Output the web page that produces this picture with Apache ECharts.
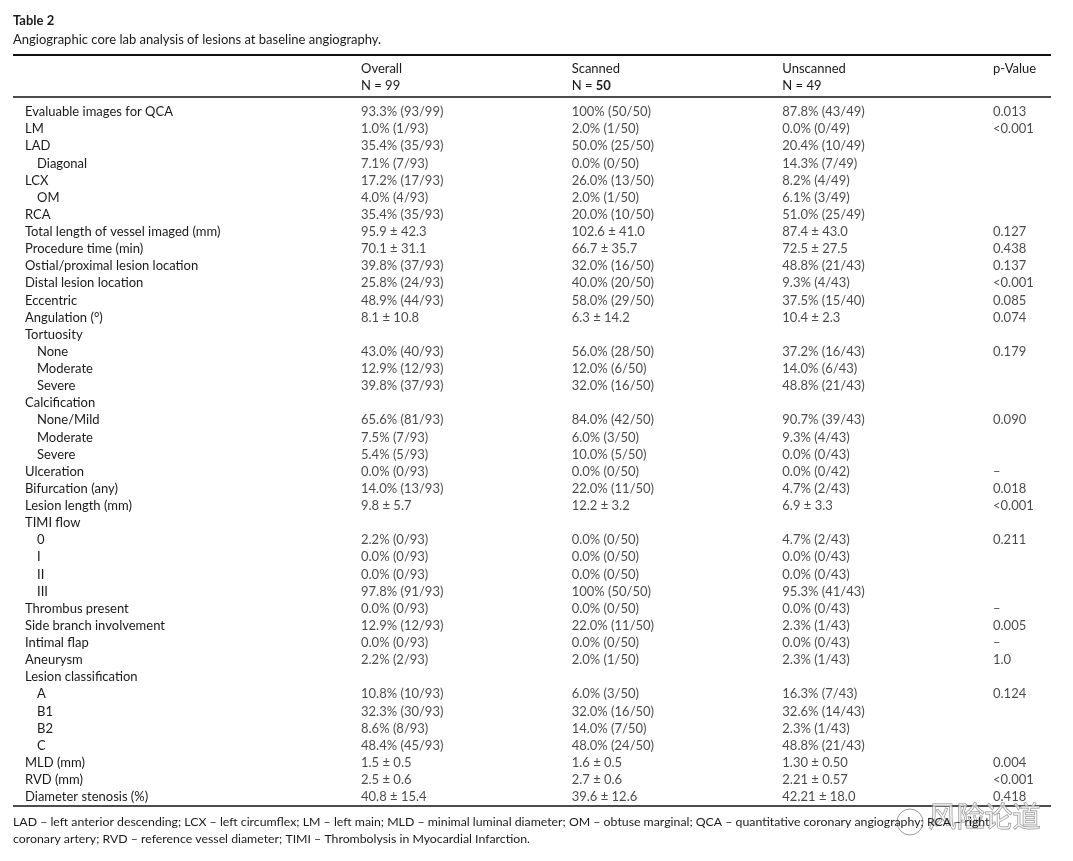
<!DOCTYPE html>
<html><head><meta charset="utf-8">
<script src="https://cdn.jsdelivr.net/npm/echarts@6/dist/echarts.min.js"></script>
<style>html,body{margin:0;padding:0;background:#fff}#c{width:1073px;height:861px}</style>
</head><body><div id="c"></div>
<script>
const titleText = 'Table 2';
const subtitleText = 'Angiographic core lab analysis of lesions at baseline angiography.';
const headerNames = ['Overall', 'Scanned', 'Unscanned', 'p-Value'];
const headerN = ['N = 99', 'N = 50', 'N = 49', ''];
const rowLabels = ['Evaluable images for QCA','LM','LAD','Diagonal','LCX','OM','RCA','Total length of vessel imaged (mm)','Procedure time (min)','Ostial/proximal lesion location','Distal lesion location','Eccentric','Angulation (°)','Tortuosity','None','Moderate','Severe','Calcification','None/Mild','Moderate','Severe','Ulceration','Bifurcation (any)','Lesion length (mm)','TIMI flow','0','I','II','III','Thrombus present','Side branch involvement','Intimal flap','Aneurysm','Lesion classification','A','B1','B2','C','MLD (mm)','RVD (mm)','Diameter stenosis (%)'];
const indented = [3,5,14,15,16,18,19,20,25,26,27,28,34,35,36,37];
const overall = ['93.3% (93/99)','1.0% (1/93)','35.4% (35/93)','7.1% (7/93)','17.2% (17/93)','4.0% (4/93)','35.4% (35/93)','95.9 ± 42.3','70.1 ± 31.1','39.8% (37/93)','25.8% (24/93)','48.9% (44/93)','8.1 ± 10.8','','43.0% (40/93)','12.9% (12/93)','39.8% (37/93)','','65.6% (81/93)','7.5% (7/93)','5.4% (5/93)','0.0% (0/93)','14.0% (13/93)','9.8 ± 5.7','','2.2% (0/93)','0.0% (0/93)','0.0% (0/93)','97.8% (91/93)','0.0% (0/93)','12.9% (12/93)','0.0% (0/93)','2.2% (2/93)','','10.8% (10/93)','32.3% (30/93)','8.6% (8/93)','48.4% (45/93)','1.5 ± 0.5','2.5 ± 0.6','40.8 ± 15.4'];
const scanned = ['100% (50/50)','2.0% (1/50)','50.0% (25/50)','0.0% (0/50)','26.0% (13/50)','2.0% (1/50)','20.0% (10/50)','102.6 ± 41.0','66.7 ± 35.7','32.0% (16/50)','40.0% (20/50)','58.0% (29/50)','6.3 ± 14.2','','56.0% (28/50)','12.0% (6/50)','32.0% (16/50)','','84.0% (42/50)','6.0% (3/50)','10.0% (5/50)','0.0% (0/50)','22.0% (11/50)','12.2 ± 3.2','','0.0% (0/50)','0.0% (0/50)','0.0% (0/50)','100% (50/50)','0.0% (0/50)','22.0% (11/50)','0.0% (0/50)','2.0% (1/50)','','6.0% (3/50)','32.0% (16/50)','14.0% (7/50)','48.0% (24/50)','1.6 ± 0.5','2.7 ± 0.6','39.6 ± 12.6'];
const unscanned = ['87.8% (43/49)','0.0% (0/49)','20.4% (10/49)','14.3% (7/49)','8.2% (4/49)','6.1% (3/49)','51.0% (25/49)','87.4 ± 43.0','72.5 ± 27.5','48.8% (21/43)','9.3% (4/43)','37.5% (15/40)','10.4 ± 2.3','','37.2% (16/43)','14.0% (6/43)','48.8% (21/43)','','90.7% (39/43)','9.3% (4/43)','0.0% (0/43)','0.0% (0/42)','4.7% (2/43)','6.9 ± 3.3','','4.7% (2/43)','0.0% (0/43)','0.0% (0/43)','95.3% (41/43)','0.0% (0/43)','2.3% (1/43)','0.0% (0/43)','2.3% (1/43)','','16.3% (7/43)','32.6% (14/43)','2.3% (1/43)','48.8% (21/43)','1.30 ± 0.50','2.21 ± 0.57','42.21 ± 18.0'];
const pValue = ['0.013','<0.001','','','','','','0.127','0.438','0.137','<0.001','0.085','0.074','','0.179','','','','0.090','','','–','0.018','<0.001','','0.211','','','','–','0.005','–','1.0','','0.124','','','','0.004','<0.001','0.418'];
const footnote = 'LAD – left anterior descending; LCX – left circumflex; LM – left main; MLD – minimal luminal diameter; OM – obtuse marginal; QCA – quantitative coronary angiography; RCA – right\ncoronary artery; RVD – reference vessel diameter; TIMI – Thrombolysis in Myocardial Infarction.';
const watermark = '风险论道';

const FONT = 'Lato';
const TXT = '#1a1a1a';
const columns = [overall, scanned, unscanned, pValue];

const chart = echarts.init(document.getElementById('c'), null, {renderer: 'canvas'});
const series = columns.map((col, c) => ({
  type: 'scatter',
  symbolSize: 0,
  silent: true,
  data: col.map((t, i) => t ? [c, i] : null).filter(Boolean),
  label: {
    show: true, position: 'right', distance: 0,
    fontFamily: FONT, fontSize: 13, color: TXT,
    formatter: p => col[p.value[1]]
  }
}));

chart.setOption({
  animation: false,
  backgroundColor: '#fff',
  title: [
    {text: titleText, left: 13, top: 14, padding: 0, textStyle: {fontFamily: FONT, fontSize: 13, fontWeight: 'bold', color: TXT}},
    {text: subtitleText, left: 13, top: 33, padding: 0, textStyle: {fontFamily: FONT, fontSize: 13, fontWeight: 'normal', color: TXT}},
    {text: footnote, left: 13, top: 814, padding: 0, textStyle: {fontFamily: FONT, fontSize: 12.3, fontWeight: 'normal', color: TXT, lineHeight: 17}}
  ],
  grid: {left: 361, top: 112, width: 632, height: 685},
  xAxis: {
    type: 'value', position: 'top', min: 0, max: 3, interval: 1,
    axisLine: {show: false}, axisTick: {show: false}, splitLine: {show: false},
    axisLabel: {
      showMinLabel: true, showMaxLabel: true, align: 'left', verticalAlign: 'bottom', margin: 18,
      fontFamily: FONT, fontSize: 13, color: TXT, lineHeight: 17,
      formatter: v => {
        const n = headerN[v];
        let second = n;
        if (v === 1) second = 'N = {b|50}';
        return n ? headerNames[v] + '\n' + second : headerNames[v] + '\n ';
      },
      rich: {b: {fontFamily: FONT, fontSize: 13, fontWeight: 'bold', color: TXT}}
    }
  },
  yAxis: {
    type: 'category', inverse: true, boundaryGap: false,
    data: rowLabels.map((_, i) => String(i)),
    axisLine: {show: false}, axisTick: {show: false}, splitLine: {show: false},
    axisLabel: {
      interval: 0, align: 'left', margin: 336,
      fontFamily: FONT, fontSize: 13, color: TXT,
      formatter: (v, i) => indented.includes(i) ? '{ind|' + rowLabels[i] + '}' : rowLabels[i],
      rich: {ind: {padding: [0, 0, 0, 12], fontFamily: FONT, fontSize: 13, color: TXT}}
    }
  },
  series: series,
  graphic: [
    {type: 'line', shape: {x1: 13, y1: 55, x2: 1051, y2: 55}, style: {stroke: '#111', lineWidth: 2}},
    {type: 'line', shape: {x1: 13, y1: 97, x2: 1051, y2: 97}, style: {stroke: '#111', lineWidth: 1.5}},
    {type: 'line', shape: {x1: 13, y1: 806, x2: 1051, y2: 806}, style: {stroke: '#111', lineWidth: 1.5}},
    {type: 'text', left: 928, top: 802, style: {text: watermark, fontFamily: 'Noto Sans CJK SC', fontSize: 28, fill: 'rgba(255,255,255,0.6)', stroke: '#888', lineWidth: 1}},
    {type: 'circle', shape: {cx: 910, cy: 822, r: 13}, style: {fill: 'rgba(255,255,255,0.5)', stroke: '#999', lineWidth: 1}}
  ]
});
</script></body></html>
